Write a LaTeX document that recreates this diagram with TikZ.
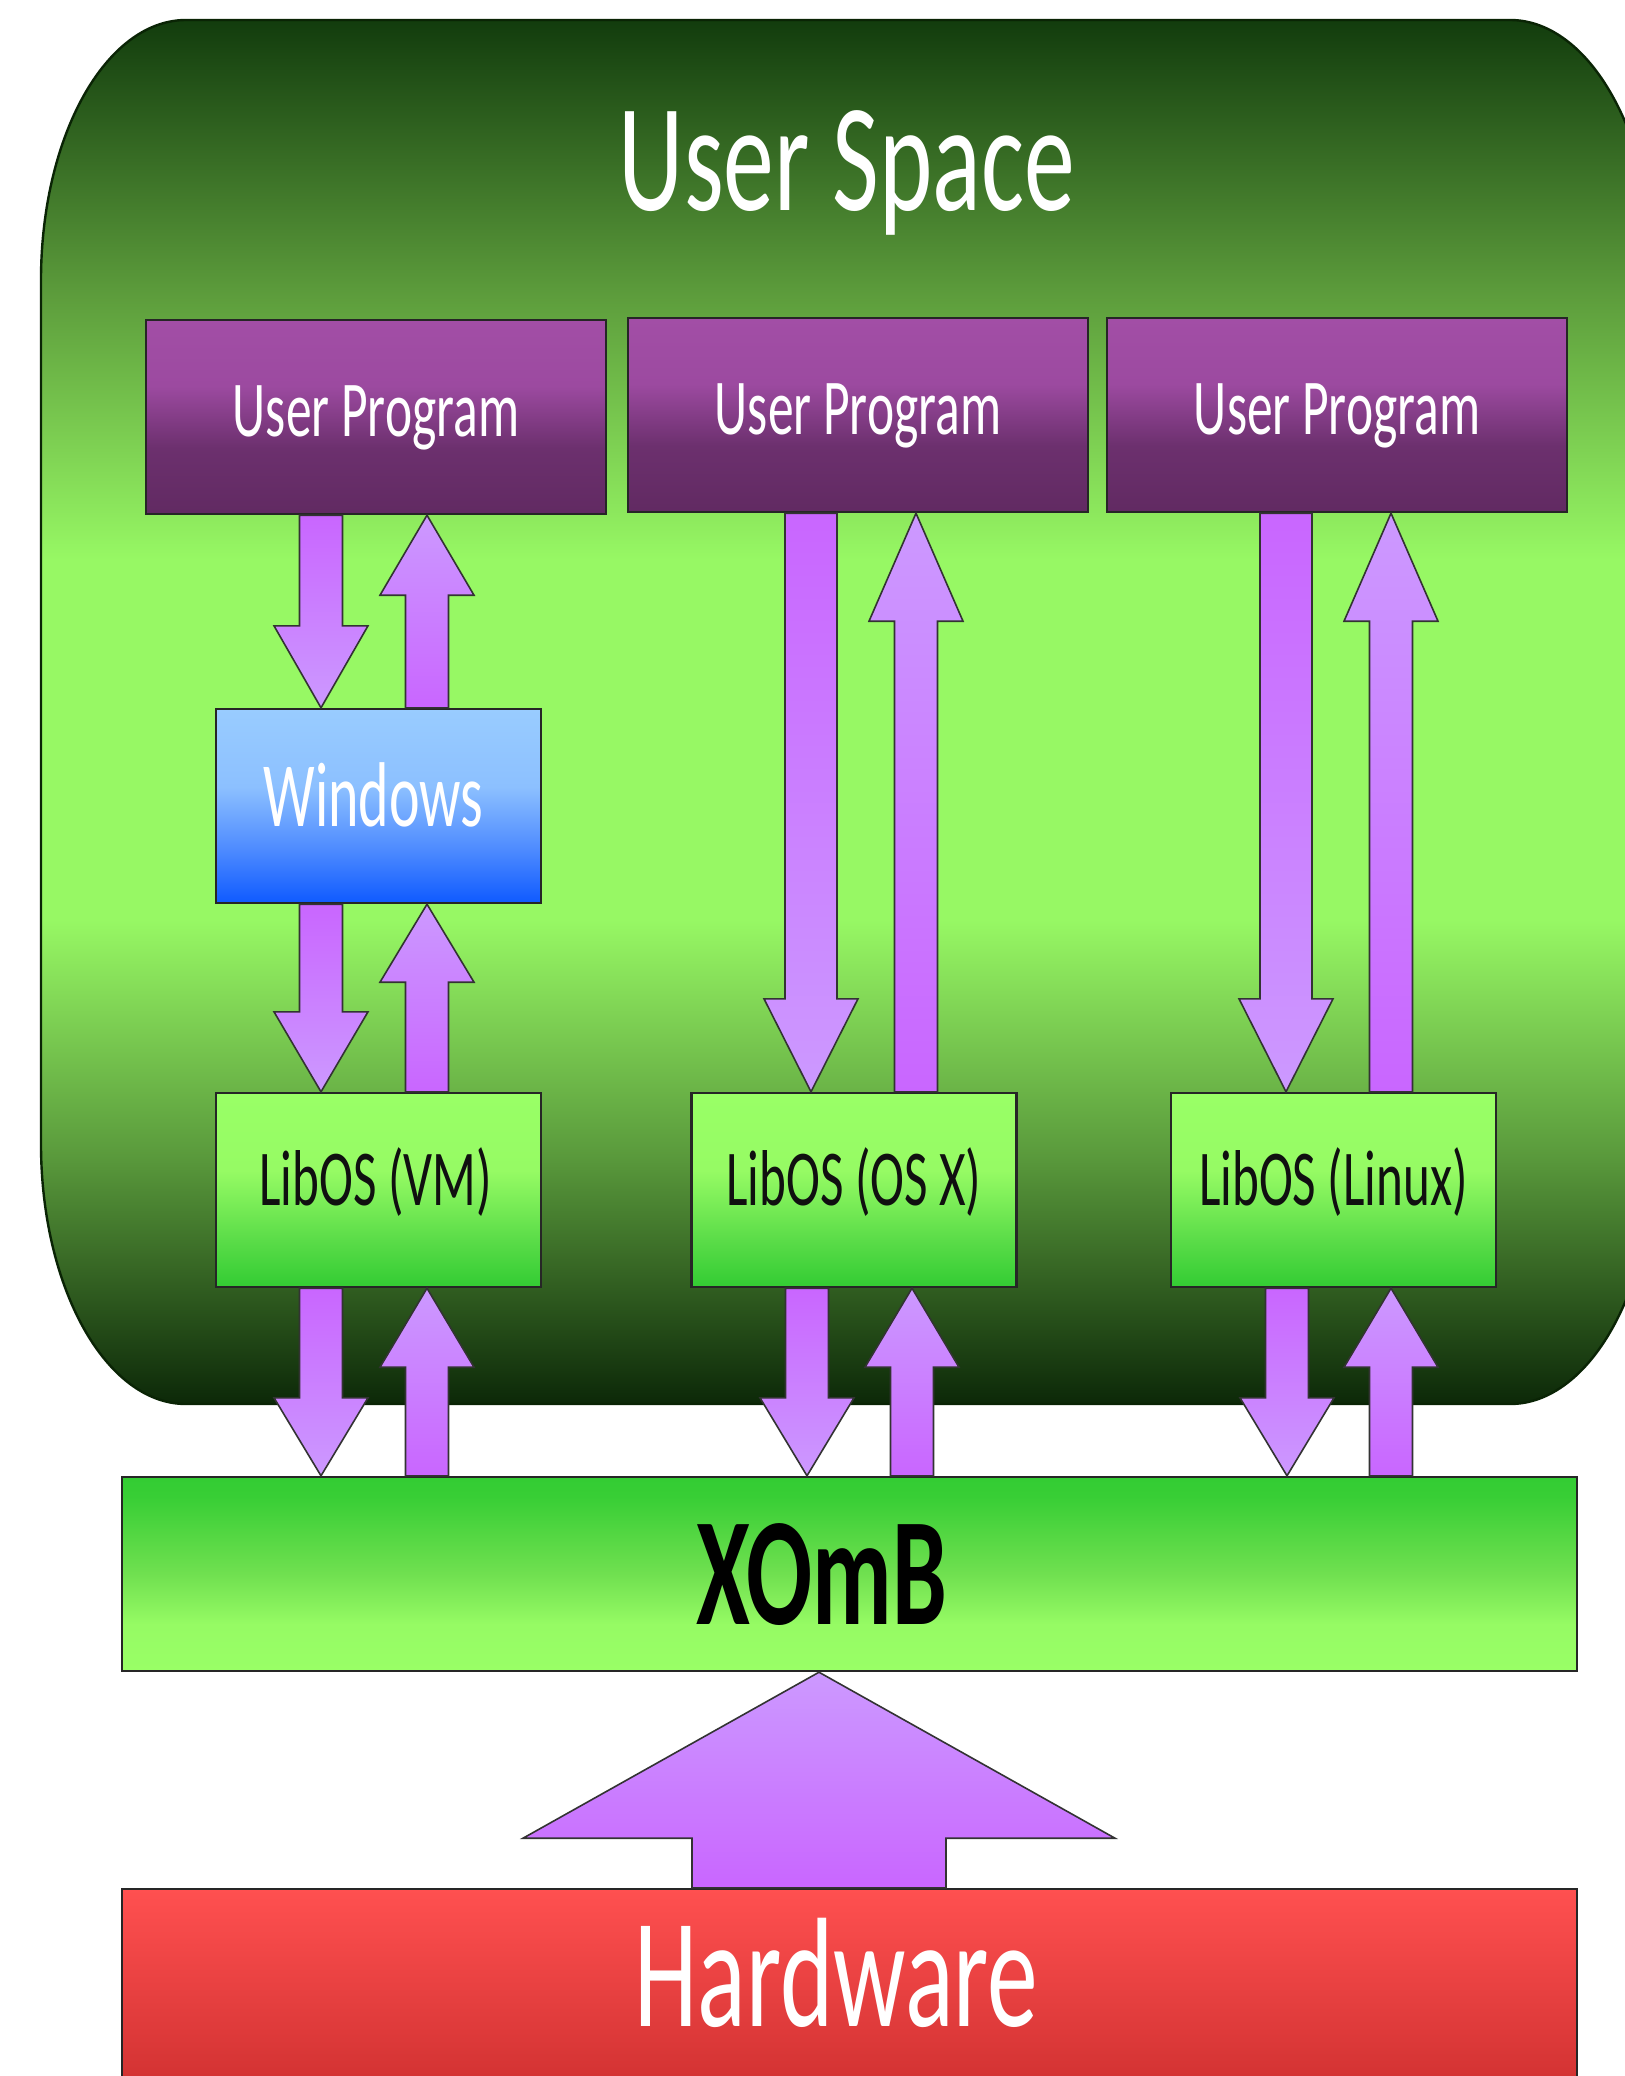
\documentclass[tikz,border=0pt]{standalone}
\usepackage{fontspec}
\setmainfont{Carlito}
\usetikzlibrary{calc}
\definecolor{arrlight}{HTML}{CC99FF}
\definecolor{arrdark}{HTML}{C966FF}
\definecolor{usA}{HTML}{0C2808}
\definecolor{usB}{HTML}{5A9A3C}
\definecolor{usC}{HTML}{97F864}
\definecolor{usD}{HTML}{5D9D3C}
\definecolor{usE}{HTML}{123C0D}
\definecolor{usLine}{HTML}{0A2405}
\definecolor{upT}{HTML}{A24EA6}
\definecolor{upT2}{HTML}{9C4AA0}
\definecolor{upM}{HTML}{6C306E}
\definecolor{upB}{HTML}{612A62}
\definecolor{winT}{HTML}{99CCFF}
\definecolor{winT2}{HTML}{8CC0FF}
\definecolor{winM}{HTML}{4A88FF}
\definecolor{winB}{HTML}{0F5AFF}
\definecolor{libT}{HTML}{99FF66}
\definecolor{libT2}{HTML}{96FB64}
\definecolor{libM}{HTML}{5ADC48}
\definecolor{libB}{HTML}{33CC33}
\definecolor{xoM}{HTML}{70E050}
\definecolor{xoT2}{HTML}{38CE35}
\definecolor{hwT}{HTML}{FF5050}
\definecolor{hwB}{HTML}{D23232}
\definecolor{libtext}{HTML}{101010}
\pgfdeclareverticalshading{userspace}{100bp}{color(0bp)=(usA); color(25bp)=(usA); color(34bp)=(usB); color(42.5bp)=(usC); color(55.5bp)=(usC); color(65bp)=(usD); color(75bp)=(usE); color(100bp)=(usE)}
\pgfdeclareverticalshading{upshade}{100bp}{color(0bp)=(upB); color(25bp)=(upB); color(42bp)=(upM); color(58bp)=(upT2); color(75bp)=(upT); color(100bp)=(upT)}
\pgfdeclareverticalshading{winshade}{100bp}{color(0bp)=(winB); color(25bp)=(winB); color(38bp)=(winM); color(55bp)=(winT2); color(75bp)=(winT); color(100bp)=(winT)}
\pgfdeclareverticalshading{libshade}{100bp}{color(0bp)=(libB); color(25bp)=(libB); color(37bp)=(libM); color(55bp)=(libT2); color(75bp)=(libT); color(100bp)=(libT)}
\pgfdeclareverticalshading{xombshade}{100bp}{color(0bp)=(libT); color(25bp)=(libT); color(37bp)=(libT2); color(50bp)=(xoM); color(70bp)=(xoT2); color(75bp)=(libB); color(100bp)=(libB)}
\tikzset{
  boxline/.style={draw=black!85, line width=0.6pt, rectangle, inner sep=0pt},
  upbox/.style={boxline, shade, shading=upshade, minimum width=115pt, minimum height=48.5pt,
    text=white, font=\fontsize{19.8pt}{24pt}\selectfont, text height=0.75em, text depth=0.25em},
  winbox/.style={boxline, shade, shading=winshade, minimum width=81.25pt, minimum height=48.5pt,
    text=white, font=\fontsize{23pt}{28pt}\selectfont, text height=0.75em, text depth=0.25em},
  libbox/.style={boxline, shade, shading=libshade, minimum width=81.25pt, minimum height=48.5pt,
    text=libtext, font=\fontsize{19.8pt}{24pt}\selectfont, text height=0.75em, text depth=0.25em},
  xombbox/.style={boxline, shade, shading=xombshade, minimum width=363.75pt, minimum height=48.5pt,
    text=black, font=\fontsize{38.5pt}{46pt}\bfseries\selectfont, text height=0.75em, text depth=0.25em},
  hwbox/.style={boxline, top color=hwT, bottom color=hwB, minimum width=363.75pt, minimum height=48.5pt,
    text=white, font=\fontsize{39pt}{46pt}\selectfont, text height=0.75em, text depth=0.25em},
  titletext/.style={text=white, font=\fontsize{38.5pt}{46pt}\selectfont, anchor=base, inner sep=0pt},
  arrowline/.style={draw=black!80, line width=0.4pt, line join=miter}
}
% down block arrow: #1 x (px), #2 from anchor, #3 to anchor, #4 shaft half width, #5 head half width, #6 head length
\newcommand\blkdown[6]{%
  \shadedraw[arrowline, top color=arrdark, bottom color=arrlight]
  let \p1=(#2), \p2=(#3) in
  ({(#1-#4)*0.25pt},\y1) -- ({(#1+#4)*0.25pt},\y1)
  -- ({(#1+#4)*0.25pt},{\y2+#6*0.25pt}) -- ({(#1+#5)*0.25pt},{\y2+#6*0.25pt})
  -- ({#1*0.25pt},\y2) -- ({(#1-#5)*0.25pt},{\y2+#6*0.25pt})
  -- ({(#1-#4)*0.25pt},{\y2+#6*0.25pt}) -- cycle;}
% up block arrow: from lower anchor #2 to upper anchor #3
\newcommand\blkup[6]{%
  \shadedraw[arrowline, top color=arrlight, bottom color=arrdark]
  let \p1=(#2), \p2=(#3) in
  ({(#1-#4)*0.25pt},\y1) -- ({(#1+#4)*0.25pt},\y1)
  -- ({(#1+#4)*0.25pt},{\y2-#6*0.25pt}) -- ({(#1+#5)*0.25pt},{\y2-#6*0.25pt})
  -- ({#1*0.25pt},\y2) -- ({(#1-#5)*0.25pt},{\y2-#6*0.25pt})
  -- ({(#1-#4)*0.25pt},{\y2-#6*0.25pt}) -- cycle;}
\begin{document}
\begin{tikzpicture}[x=0.25pt,y=-0.25pt]
\useasboundingbox (0,0) rectangle (1625,2076);
\clip (0,0) rectangle (1625,2076);
\fill[white] (0,0) rectangle (1625,2076);
% user space container
\shadedraw[shading=userspace, draw=usLine, line width=0.6pt]
  (41,280) arc[start angle=180, end angle=90, x radius=36.25pt, y radius=65pt]
  -- (1510,20) arc[start angle=90, end angle=0, x radius=36.25pt, y radius=65pt]
  -- (1655,1144) arc[start angle=0, end angle=-90, x radius=36.25pt, y radius=65pt]
  -- (186,1404) arc[start angle=270, end angle=180, x radius=36.25pt, y radius=65pt]
  -- cycle;
\node[titletext] (us) at (847,210) {\scalebox{0.66}[1]{User Space}};
% boxes
\node[upbox] (up1) at (376,417) {\raisebox{-2.25pt}{\scalebox{0.65}[1]{User Program}}};
\node[upbox] (up2) at (858,415) {\raisebox{-2.25pt}{\scalebox{0.65}[1]{User Program}}};
\node[upbox] (up3) at (1337,415) {\raisebox{-2.25pt}{\scalebox{0.65}[1]{User Program}}};
\node[winbox] (win) at (378.5,806) {\raisebox{-2.5pt}{\scalebox{0.63}[1]{Windows}}\kern2.5pt};
\node[libbox] (lib1) at (378.5,1190) {\raisebox{-1.25pt}{\scalebox{0.645}[1]{LibOS (VM)}}\kern1.5pt};
\node[libbox] (lib2) at (854,1190) {\raisebox{-1.25pt}{\scalebox{0.645}[1]{LibOS (OS X)}}};
\node[libbox] (lib3) at (1333.5,1190) {\raisebox{-1.25pt}{\scalebox{0.645}[1]{LibOS (Linux)}}};
\node[xombbox] (xomb) at (849.5,1574) {\raisebox{-10pt}{\scalebox{0.635}[1]{XOmB}}\kern14pt};
\node[hwbox] (hw) at (849.5,1986) {\raisebox{-7.5pt}{\scalebox{0.65}[1]{Hardware}}\kern6.6pt};
% column 1 arrows
\blkdown{321}{up1.south}{win.north}{21.5}{47}{82}
\blkup{427}{win.north}{up1.south}{21.5}{47}{80}
\blkdown{321}{win.south}{lib1.north}{21.5}{47}{80}
\blkup{427}{lib1.north}{win.south}{21.5}{47}{78}
\blkdown{321}{lib1.south}{xomb.north}{21.5}{47}{78}
\blkup{427}{xomb.north}{lib1.south}{21.5}{47}{79}
% column 2 arrows
\blkdown{811}{up2.south}{lib2.north}{26}{47}{93}
\blkup{916}{lib2.north}{up2.south}{21.5}{47}{108}
\blkdown{807}{lib2.south}{xomb.north}{21.5}{47}{78}
\blkup{912}{xomb.north}{lib2.south}{21.5}{47}{79}
% column 3 arrows
\blkdown{1286}{up3.south}{lib3.north}{26}{47}{93}
\blkup{1391}{lib3.north}{up3.south}{21.5}{47}{108}
\blkdown{1287}{lib3.south}{xomb.north}{21.5}{47}{78}
\blkup{1391}{xomb.north}{lib3.south}{21.5}{47}{79}
% hardware to XOmB
\blkup{819}{hw.north}{xomb.south}{127}{296}{166}
\end{tikzpicture}
\end{document}
